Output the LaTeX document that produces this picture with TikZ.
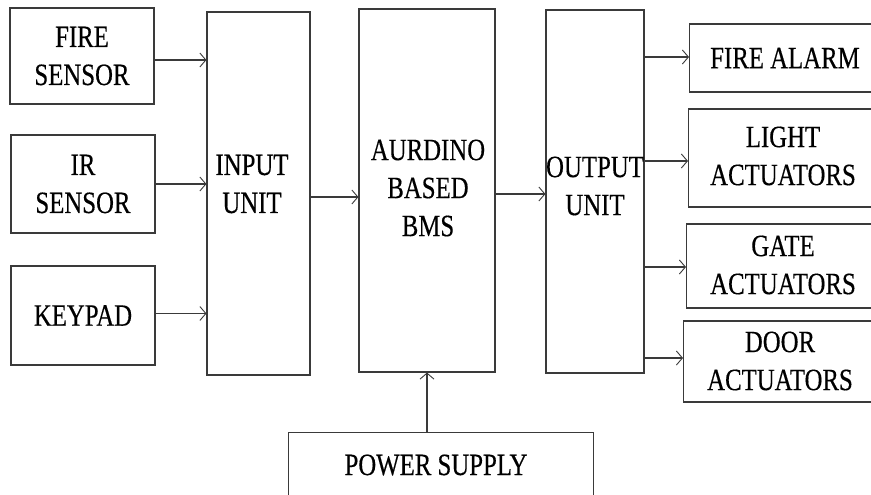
\documentclass[tikz,border=0pt]{standalone}
\usepackage{fontspec}
\setmainfont{Liberation Serif}[FakeStretch=0.8,FakeBold=0.4]
\usetikzlibrary{arrows.meta}
\definecolor{linegray}{HTML}{3A3A3A}
\tikzset{
  box/.style={draw=linegray, line width=1.1pt, rectangle, inner sep=0pt, align=center,
    font=\fontsize{31}{38}\selectfont},
  txt/.style={inner sep=0pt, align=center, font=\fontsize{31}{38}\selectfont},
  arr/.style={draw=linegray, line width=1.1pt, -{Straight Barb[length=6pt,width=14pt,line width=0.9pt]}}
}
\begin{document}
\begin{tikzpicture}[x=1pt,y=-1pt]
\path[use as bounding box, clip] (0,0) rectangle (871,495);
\fill[white] (0,0) rectangle (871,495);
% left inputs
\node[box, minimum width=144pt, minimum height=96pt] (fire) at (82,56) {FIRE\\SENSOR};
\node[box, minimum width=144pt, minimum height=98pt] (ir) at (83,184) {IR\\SENSOR};
\node[box, minimum width=144pt, minimum height=99pt] (keypad) at (83,315.5) {KEYPAD};
% main column
\node[box, minimum width=103pt, minimum height=363pt] (input) at (258.5,193.5) {};
\node[txt] (inputtxt) at (252,184) {INPUT\\UNIT};
\node[box, minimum width=136pt, minimum height=363pt] (aurdino) at (427,190.5) {};
\node[txt] (aurdinotxt) at (428,188) {AURDINO\\BASED\\BMS};
\node[box, minimum width=98pt, minimum height=363pt] (output) at (595,191.5) {};
\node[txt] (outputtxt) at (595,186) {OUTPUT\\UNIT};
% outputs (cut at right edge)
\node[box, minimum width=260pt, minimum height=68pt, anchor=west] (alarm) at (689,58) {};
\node[txt] (alarmtxt) at (785,58) {FIRE ALARM};
\node[box, minimum width=260pt, minimum height=98pt, anchor=west] (light) at (688,158) {};
\node[txt] (lighttxt) at (783,156) {LIGHT\\ACTUATORS};
\node[box, minimum width=260pt, minimum height=84pt, anchor=west] (gate) at (686,266) {};
\node[txt] (gatetxt) at (783,265) {GATE\\ACTUATORS};
\node[box, minimum width=260pt, minimum height=81pt, anchor=west] (door) at (683,361.5) {};
\node[txt] (doortxt) at (780,361) {DOOR\\ACTUATORS};
% power supply (cut at bottom)
\node[box, minimum width=305pt, minimum height=120pt, anchor=north west] (power) at (288,432) {};
\node[txt] (powertxt) at (436,465) {POWER SUPPLY};
% connectors
\coordinate (f1) at ([yshift=-4pt]fire.east);
\draw[arr] (f1) -- (f1 -| input.west);
\draw[arr] (ir.east) -- (ir.east -| input.west);
\coordinate (k1) at ([yshift=2pt]keypad.east);
\draw[arr] (k1) -- (k1 -| input.west);
\coordinate (i1) at ([yshift=-3.5pt]input.east);
\draw[arr] (i1) -- (i1 -| aurdino.west);
\coordinate (a1) at ([yshift=-3.5pt]aurdino.east);
\draw[arr] (a1) -- (a1 -| output.west);
\coordinate (o1) at ([yshift=1pt]alarm.west);
\draw[arr] (o1 -| output.east) -- (o1);
\coordinate (o2) at ([yshift=-3pt]light.west);
\draw[arr] (o2 -| output.east) -- (o2);
\coordinate (o3) at ([yshift=-1pt]gate.west);
\draw[arr] (o3 -| output.east) -- (o3);
\coordinate (o4) at ([yshift=3.5pt]door.west);
\draw[arr] (o4 -| output.east) -- (o4);
\draw[arr] (aurdino.south |- power.north) -- (aurdino.south);
\end{tikzpicture}
\end{document}
